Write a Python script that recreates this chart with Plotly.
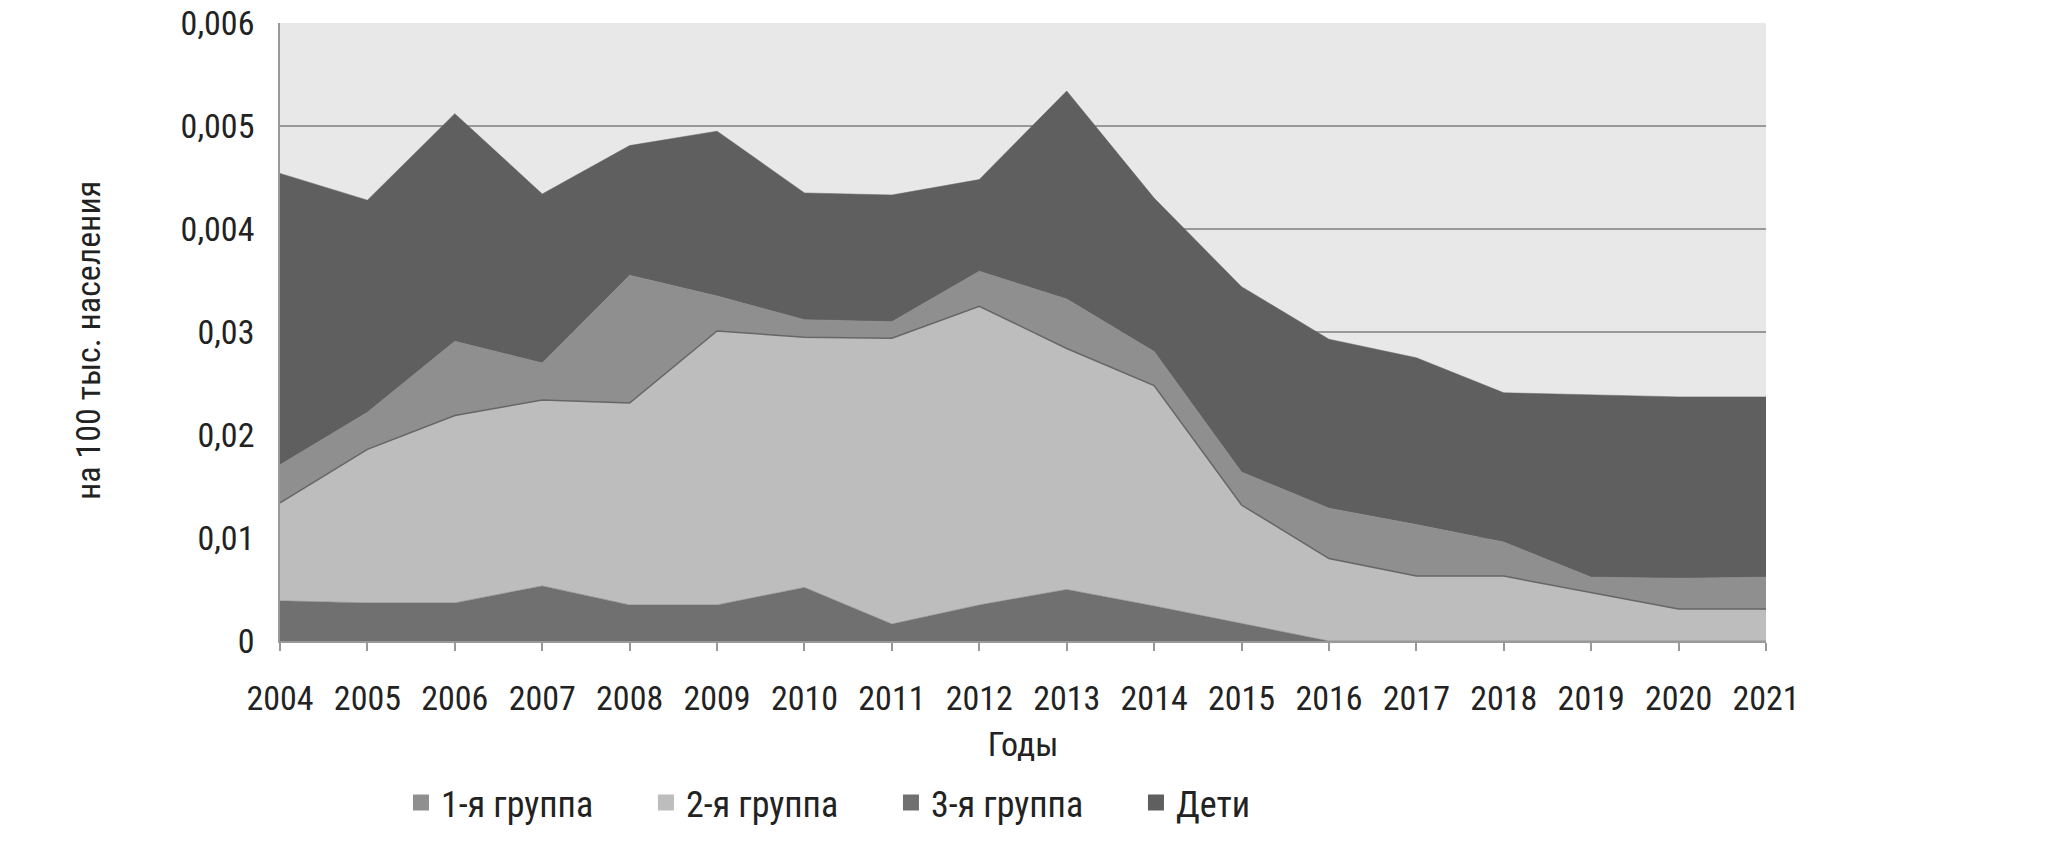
import plotly.graph_objects as go

years = list(range(2004, 2022))

# values (на 100 тыс. населения)
group3 = [0.00039, 0.00037, 0.00037, 0.000535, 0.00035, 0.00035, 0.00052, 0.000165, 0.00035,
          0.00050, 0.00034, 0.00017, 0.0, 0.0, 0.0, 0.0, 0.0, 0.0]
group2 = [0.00095, 0.00149, 0.00182, 0.001805, 0.00196, 0.00266, 0.00243, 0.002775, 0.00290,
          0.00234, 0.00214, 0.00115, 0.00080, 0.00063, 0.00063, 0.00047, 0.00031, 0.00031]
group1 = [0.00037, 0.00036, 0.00072, 0.00036, 0.00124, 0.00034, 0.00017, 0.00016, 0.00034,
          0.00048, 0.00033, 0.00032, 0.00049, 0.00050, 0.00033, 0.00015, 0.00030, 0.00031]
children = [0.00283, 0.00206, 0.00221, 0.00164, 0.00126, 0.00160, 0.00123, 0.00123, 0.00089,
            0.00202, 0.00149, 0.00180, 0.00164, 0.00162, 0.00145, 0.00177, 0.00176, 0.00175]

y_tickvals = [0, 0.001, 0.002, 0.003, 0.004, 0.005, 0.006]
y_ticktext = ["0", "0,01", "0,02", "0,03", "0,004", "0,005", "0,006"]

names = ["1-я группа", "2-я группа", "3-я группа", "Дети"]
colors = {"1-я группа": "#8f8f8f", "2-я группа": "#bdbdbd", "3-я группа": "#707070", "Дети": "#5f5f5f"}

FONT = "Roboto Condensed, Liberation Sans Narrow, DejaVu Sans Condensed, Roboto, sans-serif"
TXT = "#222222"

fig = go.Figure()

# stacking order (bottom -> top)
stack = [("3-я группа", group3, 0, None),
         ("2-я группа", group2, 1.5, "#666666"),
         ("1-я группа", group1, 0, None),
         ("Дети", children, 0, None)]
for name, vals, lw, lc in stack:
    fig.add_trace(go.Scatter(
        x=years, y=vals, name=name, stackgroup="one", mode="lines",
        line=dict(width=lw if lw else 0.5, color=lc if lc else colors[name]),
        fillcolor=colors[name], showlegend=False, hoverinfo="x+y+name"))

# legend entries
for i, name in enumerate(names):
    fig.add_trace(go.Scatter(
        x=[None], y=[None], mode="markers", name=name,
        marker=dict(symbol="square", size=16, color=colors[name]),
        showlegend=True, legendrank=i + 1))

fig.update_layout(
    width=2050, height=845,
    margin=dict(l=280, r=284, t=23, b=204),
    paper_bgcolor="white", plot_bgcolor="#e8e8e8",
    font=dict(family=FONT, size=34, color=TXT),
    legend=dict(orientation="h", x=0.0814, xanchor="left", y=-0.2615, yanchor="middle",
                entrywidth=200, entrywidthmode="pixels",
                font=dict(family=FONT, size=36, color=TXT), traceorder="normal"),
    xaxis=dict(range=[2004, 2021], tickvals=years, ticktext=[str(y) for y in years],
               automargin=False,
               showgrid=False, zeroline=False, showline=True, linecolor="#999999", linewidth=1.5,
               ticks="outside", ticklen=8, tickcolor="#999999", tickwidth=1.5,
               ticklabelstandoff=18, ticklabeloverflow="allow",
               tickfont=dict(family=FONT, size=34, color=TXT),
               title=dict(text="Годы", standoff=16, font=dict(family=FONT, size=34, color=TXT))),
    yaxis=dict(range=[0, 0.006], tickvals=y_tickvals, ticktext=y_ticktext,
               automargin=False,
               showgrid=True, gridcolor="#999999", gridwidth=1.5, zeroline=False,
               showline=True, linecolor="#999999", linewidth=1.5, ticks="",
               ticklabelstandoff=17, ticklabeloverflow="allow",
               tickfont=dict(family=FONT, size=34, color=TXT)),
    annotations=[dict(text="на 100 тыс. населения", textangle=-90, showarrow=False,
                      xref="paper", yref="paper", x=-0.1292, y=0.4854,
                      xanchor="center", yanchor="middle",
                      font=dict(family=FONT, size=34, color=TXT))],
)

fig.write_html("out.html", config={"displayModeBar": False},
               post_script="document.body.style.margin='0';")
